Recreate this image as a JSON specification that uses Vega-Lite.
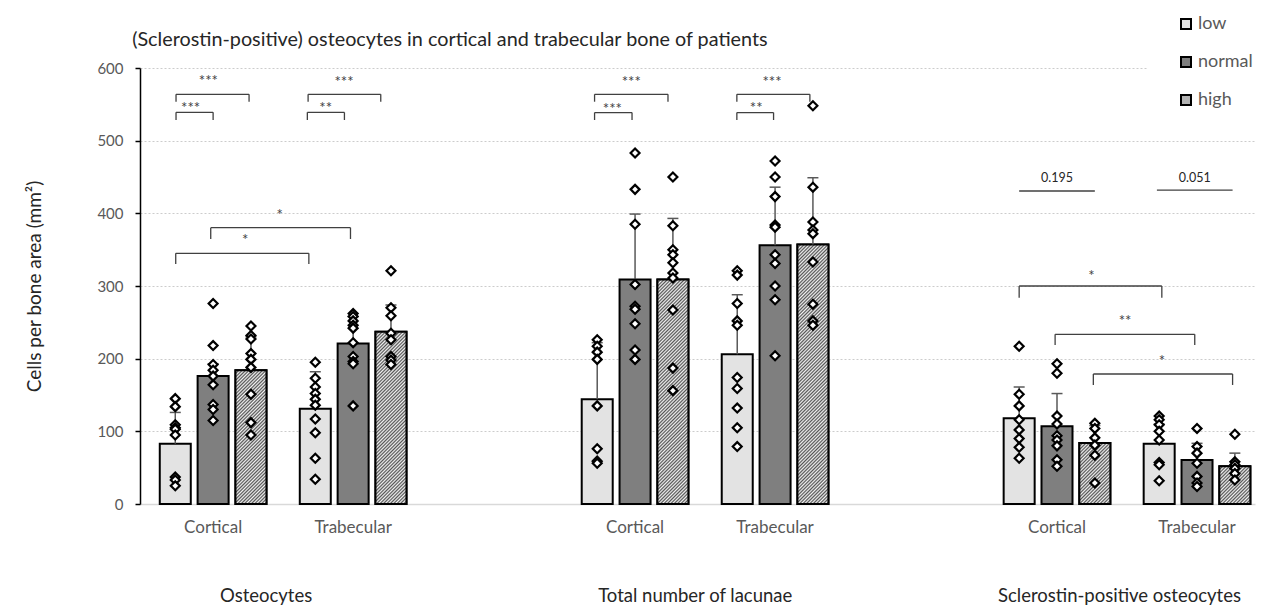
{
  "$schema": "https://vega.github.io/schema/vega-lite/v6.json",
  "width": 1115,
  "height": 436,
  "autosize": {"type": "none"},
  "padding": {"left": 140, "top": 68, "right": 13, "bottom": 101},
  "background": "white",
  "config": {"view": {"stroke": null}, "font": "Lato"},
  "params": [
    {"name": "hatchStops", "value": [
      {"offset":0,"color":"#555"},{"offset":0.005,"color":"#f2f2f2"},{"offset":0.01,"color":"#555"},{"offset":0.015,"color":"#f2f2f2"},
      {"offset":0.02,"color":"#555"},{"offset":0.025,"color":"#f2f2f2"},{"offset":0.03,"color":"#555"},{"offset":0.035,"color":"#f2f2f2"},
      {"offset":0.04,"color":"#555"},{"offset":0.045,"color":"#f2f2f2"},{"offset":0.05,"color":"#555"},{"offset":0.055,"color":"#f2f2f2"},
      {"offset":0.06,"color":"#555"},{"offset":0.065,"color":"#f2f2f2"},{"offset":0.07,"color":"#555"},{"offset":0.075,"color":"#f2f2f2"},
      {"offset":0.08,"color":"#555"},{"offset":0.085,"color":"#f2f2f2"},{"offset":0.09,"color":"#555"},{"offset":0.095,"color":"#f2f2f2"},
      {"offset":0.1,"color":"#555"},{"offset":0.105,"color":"#f2f2f2"},{"offset":0.11,"color":"#555"},{"offset":0.115,"color":"#f2f2f2"},
      {"offset":0.12,"color":"#555"},{"offset":0.125,"color":"#f2f2f2"},{"offset":0.13,"color":"#555"},{"offset":0.135,"color":"#f2f2f2"},
      {"offset":0.14,"color":"#555"},{"offset":0.145,"color":"#f2f2f2"},{"offset":0.15,"color":"#555"},{"offset":0.155,"color":"#f2f2f2"},
      {"offset":0.16,"color":"#555"},{"offset":0.165,"color":"#f2f2f2"},{"offset":0.17,"color":"#555"},{"offset":0.175,"color":"#f2f2f2"},
      {"offset":0.18,"color":"#555"},{"offset":0.185,"color":"#f2f2f2"},{"offset":0.19,"color":"#555"},{"offset":0.195,"color":"#f2f2f2"},
      {"offset":0.2,"color":"#555"},{"offset":0.205,"color":"#f2f2f2"},{"offset":0.21,"color":"#555"},{"offset":0.215,"color":"#f2f2f2"},
      {"offset":0.22,"color":"#555"},{"offset":0.225,"color":"#f2f2f2"},{"offset":0.23,"color":"#555"},{"offset":0.235,"color":"#f2f2f2"},
      {"offset":0.24,"color":"#555"},{"offset":0.245,"color":"#f2f2f2"},{"offset":0.25,"color":"#555"},{"offset":0.255,"color":"#f2f2f2"},
      {"offset":0.26,"color":"#555"},{"offset":0.265,"color":"#f2f2f2"},{"offset":0.27,"color":"#555"},{"offset":0.275,"color":"#f2f2f2"},
      {"offset":0.28,"color":"#555"},{"offset":0.285,"color":"#f2f2f2"},{"offset":0.29,"color":"#555"},{"offset":0.295,"color":"#f2f2f2"},
      {"offset":0.3,"color":"#555"},{"offset":0.305,"color":"#f2f2f2"},{"offset":0.31,"color":"#555"},{"offset":0.315,"color":"#f2f2f2"},
      {"offset":0.32,"color":"#555"},{"offset":0.325,"color":"#f2f2f2"},{"offset":0.33,"color":"#555"},{"offset":0.335,"color":"#f2f2f2"},
      {"offset":0.34,"color":"#555"},{"offset":0.345,"color":"#f2f2f2"},{"offset":0.35,"color":"#555"},{"offset":0.355,"color":"#f2f2f2"},
      {"offset":0.36,"color":"#555"},{"offset":0.365,"color":"#f2f2f2"},{"offset":0.37,"color":"#555"},{"offset":0.375,"color":"#f2f2f2"},
      {"offset":0.38,"color":"#555"},{"offset":0.385,"color":"#f2f2f2"},{"offset":0.39,"color":"#555"},{"offset":0.395,"color":"#f2f2f2"},
      {"offset":0.4,"color":"#555"},{"offset":0.405,"color":"#f2f2f2"},{"offset":0.41,"color":"#555"},{"offset":0.415,"color":"#f2f2f2"},
      {"offset":0.42,"color":"#555"},{"offset":0.425,"color":"#f2f2f2"},{"offset":0.43,"color":"#555"},{"offset":0.435,"color":"#f2f2f2"},
      {"offset":0.44,"color":"#555"},{"offset":0.445,"color":"#f2f2f2"},{"offset":0.45,"color":"#555"},{"offset":0.455,"color":"#f2f2f2"},
      {"offset":0.46,"color":"#555"},{"offset":0.465,"color":"#f2f2f2"},{"offset":0.47,"color":"#555"},{"offset":0.475,"color":"#f2f2f2"},
      {"offset":0.48,"color":"#555"},{"offset":0.485,"color":"#f2f2f2"},{"offset":0.49,"color":"#555"},{"offset":0.495,"color":"#f2f2f2"},
      {"offset":0.5,"color":"#555"},{"offset":0.505,"color":"#f2f2f2"},{"offset":0.51,"color":"#555"},{"offset":0.515,"color":"#f2f2f2"},
      {"offset":0.52,"color":"#555"},{"offset":0.525,"color":"#f2f2f2"},{"offset":0.53,"color":"#555"},{"offset":0.535,"color":"#f2f2f2"},
      {"offset":0.54,"color":"#555"},{"offset":0.545,"color":"#f2f2f2"},{"offset":0.55,"color":"#555"},{"offset":0.555,"color":"#f2f2f2"},
      {"offset":0.56,"color":"#555"},{"offset":0.565,"color":"#f2f2f2"},{"offset":0.57,"color":"#555"},{"offset":0.575,"color":"#f2f2f2"},
      {"offset":0.58,"color":"#555"},{"offset":0.585,"color":"#f2f2f2"},{"offset":0.59,"color":"#555"},{"offset":0.595,"color":"#f2f2f2"},
      {"offset":0.6,"color":"#555"},{"offset":0.605,"color":"#f2f2f2"},{"offset":0.61,"color":"#555"},{"offset":0.615,"color":"#f2f2f2"},
      {"offset":0.62,"color":"#555"},{"offset":0.625,"color":"#f2f2f2"},{"offset":0.63,"color":"#555"},{"offset":0.635,"color":"#f2f2f2"},
      {"offset":0.64,"color":"#555"},{"offset":0.645,"color":"#f2f2f2"},{"offset":0.65,"color":"#555"},{"offset":0.655,"color":"#f2f2f2"},
      {"offset":0.66,"color":"#555"},{"offset":0.665,"color":"#f2f2f2"},{"offset":0.67,"color":"#555"},{"offset":0.675,"color":"#f2f2f2"},
      {"offset":0.68,"color":"#555"},{"offset":0.685,"color":"#f2f2f2"},{"offset":0.69,"color":"#555"},{"offset":0.695,"color":"#f2f2f2"},
      {"offset":0.7,"color":"#555"},{"offset":0.705,"color":"#f2f2f2"},{"offset":0.71,"color":"#555"},{"offset":0.715,"color":"#f2f2f2"},
      {"offset":0.72,"color":"#555"},{"offset":0.725,"color":"#f2f2f2"},{"offset":0.73,"color":"#555"},{"offset":0.735,"color":"#f2f2f2"},
      {"offset":0.74,"color":"#555"},{"offset":0.745,"color":"#f2f2f2"},{"offset":0.75,"color":"#555"},{"offset":0.755,"color":"#f2f2f2"},
      {"offset":0.76,"color":"#555"},{"offset":0.765,"color":"#f2f2f2"},{"offset":0.77,"color":"#555"},{"offset":0.775,"color":"#f2f2f2"},
      {"offset":0.78,"color":"#555"},{"offset":0.785,"color":"#f2f2f2"},{"offset":0.79,"color":"#555"},{"offset":0.795,"color":"#f2f2f2"},
      {"offset":0.8,"color":"#555"},{"offset":0.805,"color":"#f2f2f2"},{"offset":0.81,"color":"#555"},{"offset":0.815,"color":"#f2f2f2"},
      {"offset":0.82,"color":"#555"},{"offset":0.825,"color":"#f2f2f2"},{"offset":0.83,"color":"#555"},{"offset":0.835,"color":"#f2f2f2"},
      {"offset":0.84,"color":"#555"},{"offset":0.845,"color":"#f2f2f2"},{"offset":0.85,"color":"#555"},{"offset":0.855,"color":"#f2f2f2"},
      {"offset":0.86,"color":"#555"},{"offset":0.865,"color":"#f2f2f2"},{"offset":0.87,"color":"#555"},{"offset":0.875,"color":"#f2f2f2"},
      {"offset":0.88,"color":"#555"},{"offset":0.885,"color":"#f2f2f2"},{"offset":0.89,"color":"#555"},{"offset":0.895,"color":"#f2f2f2"},
      {"offset":0.9,"color":"#555"},{"offset":0.905,"color":"#f2f2f2"},{"offset":0.91,"color":"#555"},{"offset":0.915,"color":"#f2f2f2"},
      {"offset":0.92,"color":"#555"},{"offset":0.925,"color":"#f2f2f2"},{"offset":0.93,"color":"#555"},{"offset":0.935,"color":"#f2f2f2"},
      {"offset":0.94,"color":"#555"},{"offset":0.945,"color":"#f2f2f2"},{"offset":0.95,"color":"#555"},{"offset":0.955,"color":"#f2f2f2"},
      {"offset":0.96,"color":"#555"},{"offset":0.965,"color":"#f2f2f2"},{"offset":0.97,"color":"#555"},{"offset":0.975,"color":"#f2f2f2"},
      {"offset":0.98,"color":"#555"},{"offset":0.985,"color":"#f2f2f2"},{"offset":0.99,"color":"#555"},{"offset":0.995,"color":"#f2f2f2"},
      {"offset":1,"color":"#555"}
    ]}
  ],
  "datasets": {
    "bars": [
      {"bar": "O-C-low", "measure": "Osteocytes", "site": "Cortical", "level": "low", "pos": 1, "mean": 83, "upper": 126},
      {"bar": "O-C-normal", "measure": "Osteocytes", "site": "Cortical", "level": "normal", "pos": 2, "mean": 176, "upper": 193},
      {"bar": "O-C-high", "measure": "Osteocytes", "site": "Cortical", "level": "high", "pos": 3, "mean": 184, "upper": 230},
      {"bar": "O-T-low", "measure": "Osteocytes", "site": "Trabecular", "level": "low", "pos": 4.7, "mean": 131, "upper": 182},
      {"bar": "O-T-normal", "measure": "Osteocytes", "site": "Trabecular", "level": "normal", "pos": 5.7, "mean": 221, "upper": 258},
      {"bar": "O-T-high", "measure": "Osteocytes", "site": "Trabecular", "level": "high", "pos": 6.7, "mean": 237, "upper": 274},
      {"bar": "L-C-low", "measure": "Total number of lacunae", "site": "Cortical", "level": "low", "pos": 12.15, "mean": 144, "upper": 222},
      {"bar": "L-C-normal", "measure": "Total number of lacunae", "site": "Cortical", "level": "normal", "pos": 13.15, "mean": 309, "upper": 399},
      {"bar": "L-C-high", "measure": "Total number of lacunae", "site": "Cortical", "level": "high", "pos": 14.15, "mean": 309, "upper": 393},
      {"bar": "L-T-low", "measure": "Total number of lacunae", "site": "Trabecular", "level": "low", "pos": 15.85, "mean": 206, "upper": 288},
      {"bar": "L-T-normal", "measure": "Total number of lacunae", "site": "Trabecular", "level": "normal", "pos": 16.85, "mean": 356, "upper": 436},
      {"bar": "L-T-high", "measure": "Total number of lacunae", "site": "Trabecular", "level": "high", "pos": 17.85, "mean": 357, "upper": 449},
      {"bar": "S-C-low", "measure": "Sclerostin-positive osteocytes", "site": "Cortical", "level": "low", "pos": 23.3, "mean": 118, "upper": 161},
      {"bar": "S-C-normal", "measure": "Sclerostin-positive osteocytes", "site": "Cortical", "level": "normal", "pos": 24.3, "mean": 107, "upper": 152},
      {"bar": "S-C-high", "measure": "Sclerostin-positive osteocytes", "site": "Cortical", "level": "high", "pos": 25.3, "mean": 84, "upper": 108},
      {"bar": "S-T-low", "measure": "Sclerostin-positive osteocytes", "site": "Trabecular", "level": "low", "pos": 27, "mean": 83, "upper": 110},
      {"bar": "S-T-normal", "measure": "Sclerostin-positive osteocytes", "site": "Trabecular", "level": "normal", "pos": 28, "mean": 60.5, "upper": 83.5},
      {"bar": "S-T-high", "measure": "Sclerostin-positive osteocytes", "site": "Trabecular", "level": "high", "pos": 29, "mean": 52, "upper": 70}
    ],
    "points": [
      {"bar": "O-C-low", "vals": [145, 134, 109, 105, 103, 95, 37, 33, 25]},
      {"bar": "O-C-normal", "vals": [276, 218, 192, 184, 176, 164, 137, 130, 115]},
      {"bar": "O-C-high", "vals": [245, 232, 227, 207, 199, 188, 151, 112, 95]},
      {"bar": "O-T-low", "vals": [195, 173, 161, 152, 144, 136, 117, 98, 63, 34]},
      {"bar": "O-T-normal", "vals": [262, 258, 252, 246, 242, 222, 203, 196, 193, 135]},
      {"bar": "O-T-high", "vals": [321, 270, 259, 235, 226, 203, 198, 192]},
      {"bar": "L-C-low", "vals": [226, 217, 209, 199, 135, 76, 59, 56]},
      {"bar": "L-C-normal", "vals": [483, 433, 385, 302, 272, 268, 248, 212, 199]},
      {"bar": "L-C-high", "vals": [450, 383, 350, 343, 332, 318, 311, 267, 187, 156]},
      {"bar": "L-T-low", "vals": [321, 315, 276, 252, 246, 174, 159, 132, 105, 79]},
      {"bar": "L-T-normal", "vals": [472, 450, 423, 384, 381, 343, 331, 300, 281, 204]},
      {"bar": "L-T-high", "vals": [548, 436, 388, 377, 372, 333, 275, 252, 246]},
      {"bar": "S-C-low", "vals": [217, 151, 135, 116, 102, 90, 78, 63]},
      {"bar": "S-C-normal", "vals": [193, 180, 121, 110, 94, 88, 80, 61, 52]},
      {"bar": "S-C-high", "vals": [111, 104, 91, 81, 67, 29]},
      {"bar": "S-T-low", "vals": [121, 116, 109, 100, 88, 57, 54, 32]},
      {"bar": "S-T-normal", "vals": [104, 79, 70, 56, 38, 29, 24]},
      {"bar": "S-T-high", "vals": [96, 58, 54, 49, 42, 33]}
    ],
    "brackets": [
      {"x1": 1.02, "x2": 2.0, "y": 539, "leg": 528.4, "label": "***", "tx": 1.405, "ty": 549},
      {"x1": 1.02, "x2": 2.95, "y": 563.8, "leg": 553.6, "label": "***", "tx": 1.876, "ty": 586.6},
      {"x1": 4.49, "x2": 5.47, "y": 539, "leg": 528.4, "label": "**", "tx": 4.975, "ty": 549},
      {"x1": 4.51, "x2": 6.43, "y": 563.8, "leg": 553.6, "label": "***", "tx": 5.457, "ty": 584.9},
      {"x1": 1.012, "x2": 4.53, "y": 345, "leg": 330.3, "label": "*", "tx": 2.845, "ty": 367.8},
      {"x1": 1.937, "x2": 5.63, "y": 380.3, "leg": 364.7, "label": "*", "tx": 3.762, "ty": 402.3},
      {"x1": 12.08, "x2": 13.07, "y": 538.7, "leg": 528.4, "label": "***", "tx": 12.55, "ty": 547.7},
      {"x1": 12.08, "x2": 14.02, "y": 563.8, "leg": 553.6, "label": "***", "tx": 13.05, "ty": 585.3},
      {"x1": 15.84, "x2": 16.81, "y": 538.7, "leg": 528.4, "label": "**", "tx": 16.35, "ty": 549},
      {"x1": 15.84, "x2": 17.77, "y": 563.8, "leg": 553.6, "label": "***", "tx": 16.77, "ty": 585.3},
      {"x1": 23.3, "x2": 25.3, "y": 430.7, "leg": 430.7, "label": "0.195", "tx": 24.3, "ty": 448.2},
      {"x1": 26.94, "x2": 28.94, "y": 432, "leg": 432, "label": "0.051", "tx": 27.94, "ty": 448.2},
      {"x1": 23.3, "x2": 27.07, "y": 300, "leg": 284, "label": "*", "tx": 25.21, "ty": 317.5},
      {"x1": 24.25, "x2": 27.94, "y": 233.5, "leg": 218.8, "label": "**", "tx": 26.1, "ty": 256.4},
      {"x1": 25.26, "x2": 28.94, "y": 178.9, "leg": 163.8, "label": "*", "tx": 27.07, "ty": 200.5}
    ],
    "sites": [
      {"label": "Cortical", "pos": 2},
      {"label": "Trabecular", "pos": 5.7},
      {"label": "Cortical", "pos": 13.15},
      {"label": "Trabecular", "pos": 16.85},
      {"label": "Cortical", "pos": 24.3},
      {"label": "Trabecular", "pos": 28}
    ],
    "groups": [
      {"label": "Osteocytes", "gx": 3.4},
      {"label": "Total number of lacunae", "gx": 14.74},
      {"label": "Sclerostin-positive osteocytes", "gx": 25.95}
    ],
    "titles": [
      {"label": "(Sclerostin-positive) osteocytes in cortical and trabecular bone of patients"}
    ]
  },
  "layer": [
    {
      "data": {"name": "bars"},
      "mark": {"type": "bar", "size": 31, "stroke": "black", "strokeWidth": 2, "orient": "vertical"},
      "encoding": {
        "x": {"field": "pos", "type": "quantitative", "title": null,
              "scale": {"domain": [0.2, 29.4], "nice": false, "zero": false},
              "axis": {"labels": false, "ticks": false, "grid": false, "domainColor": "#d9d9d9", "domainWidth": 1.5}},
        "y": {"field": "mean", "type": "quantitative", "stack": null, "title": "Cells per bone area (mm²)",
              "scale": {"domain": [0, 600], "nice": false},
              "axis": {"values": [0, 100, 200, 300, 400, 500, 600], "grid": true, "gridDash": [2, 2], "gridColor": "#cccccc", "gridWidth": 1,
                       "domainColor": "black", "domainWidth": 1.5, "tickColor": "black", "tickWidth": 1.5, "tickSize": 5,
                       "labelFontSize": 15, "labelColor": "#595959", "labelPadding": 12, "labelFont": "Lato",
                       "titleFontSize": 19, "titleFontWeight": "normal", "titleColor": "#262626", "titleFont": "Lato", "titlePadding": 52}},
        "color": {"field": "level", "type": "nominal",
                  "scale": {"domain": ["low", "normal", "high"], "range": ["#e3e3e3", "#7f7f7f", "#b3b3b3"]},
                  "legend": {"title": null, "orient": "none", "legendX": 1007, "legendY": -83, "direction": "vertical",
                             "symbolType": "square", "symbolSize": 100, "symbolStrokeColor": "black", "symbolStrokeWidth": 2,
                             "labelFontSize": 18, "labelColor": "#595959", "labelFont": "Lato", "labelOffset": 3, "rowPadding": 20,
                             "padding": 30, "fillColor": "white",
                             "encode": {"symbols": {"update": {
                               "fill": {"signal": "datum.value === 'high' ? {gradient: 'linear', x1: 0, y1: 0, x2: 16.97, y2: 16.97, stops: hatchStops} : scale('color', datum.value)"},
                               "stroke": {"value": "black"}, "strokeWidth": {"value": 2}, "opacity": {"value": 1}}}}}}
      }
    },
    {
      "data": {"name": "bars"},
      "transform": [{"filter": "datum.level === 'high'"}],
      "mark": {"type": "bar", "size": 31, "stroke": "black", "strokeWidth": 2, "orient": "vertical",
               "fill": {"expr": "{gradient: 'linear', x1: 0, y1: 0, x2: 339.4*31/(961 + pow(scale('y', 0) - scale('y', datum.mean), 2)), y2: 339.4*(scale('y', 0) - scale('y', datum.mean))/(961 + pow(scale('y', 0) - scale('y', datum.mean), 2)), stops: hatchStops}"}},
      "encoding": {
        "x": {"field": "pos", "type": "quantitative", "title": null},
        "y": {"field": "mean", "type": "quantitative", "stack": null, "title": "Cells per bone area (mm²)"}
      }
    },
    {
      "data": {"name": "bars"},
      "mark": {"type": "rule", "color": "#595959", "strokeWidth": 1.5},
      "encoding": {
        "x": {"field": "pos", "type": "quantitative", "title": null},
        "y": {"field": "mean", "type": "quantitative", "title": "Cells per bone area (mm²)"},
        "y2": {"field": "upper"}
      }
    },
    {
      "data": {"name": "bars"},
      "mark": {"type": "tick", "orient": "horizontal", "color": "#595959", "size": 11, "thickness": 1.5, "opacity": 1},
      "encoding": {
        "x": {"field": "pos", "type": "quantitative", "title": null},
        "y": {"field": "upper", "type": "quantitative", "title": "Cells per bone area (mm²)"}
      }
    },
    {
      "data": {"name": "points"},
      "transform": [
        {"flatten": ["vals"]},
        {"lookup": "bar", "from": {"data": {"name": "bars"}, "key": "bar", "fields": ["pos"]}}
      ],
      "mark": {"type": "point", "shape": "diamond", "size": 80, "filled": true, "fill": "white", "stroke": "black", "strokeWidth": 2.2, "opacity": 1},
      "encoding": {
        "x": {"field": "pos", "type": "quantitative", "title": null},
        "y": {"field": "vals", "type": "quantitative", "title": "Cells per bone area (mm²)"}
      }
    },
    {
      "data": {"name": "brackets"},
      "mark": {"type": "rule", "color": "#404040", "strokeWidth": 1.3},
      "encoding": {
        "x": {"field": "x1", "type": "quantitative", "title": null},
        "x2": {"field": "x2"},
        "y": {"field": "y", "type": "quantitative", "title": "Cells per bone area (mm²)"}
      }
    },
    {
      "data": {"name": "brackets"},
      "mark": {"type": "rule", "color": "#404040", "strokeWidth": 1.3},
      "encoding": {
        "x": {"field": "x1", "type": "quantitative", "title": null},
        "y": {"field": "y", "type": "quantitative", "title": "Cells per bone area (mm²)"},
        "y2": {"field": "leg"}
      }
    },
    {
      "data": {"name": "brackets"},
      "mark": {"type": "rule", "color": "#404040", "strokeWidth": 1.3},
      "encoding": {
        "x": {"field": "x2", "type": "quantitative", "title": null},
        "y": {"field": "y", "type": "quantitative", "title": "Cells per bone area (mm²)"},
        "y2": {"field": "leg"}
      }
    },
    {
      "data": {"name": "brackets"},
      "transform": [{"filter": "indexof(datum.label, '*') >= 0"}],
      "mark": {"type": "text", "fontSize": 15, "color": "#404040", "baseline": "middle", "align": "center", "dy": 3, "font": "Lato"},
      "encoding": {
        "x": {"field": "tx", "type": "quantitative", "title": null},
        "y": {"field": "ty", "type": "quantitative", "title": "Cells per bone area (mm²)"},
        "text": {"field": "label"}
      }
    },
    {
      "data": {"name": "brackets"},
      "transform": [{"filter": "indexof(datum.label, '*') < 0"}],
      "mark": {"type": "text", "fontSize": 12.5, "color": "#262626", "baseline": "middle", "align": "center", "font": "Lato"},
      "encoding": {
        "x": {"field": "tx", "type": "quantitative", "title": null},
        "y": {"field": "ty", "type": "quantitative", "title": "Cells per bone area (mm²)"},
        "text": {"field": "label"}
      }
    },
    {
      "data": {"name": "sites"},
      "mark": {"type": "text", "fontSize": 17, "color": "#595959", "baseline": "middle", "align": "center", "font": "Lato"},
      "encoding": {
        "x": {"field": "pos", "type": "quantitative", "title": null},
        "y": {"datum": -33, "type": "quantitative", "title": "Cells per bone area (mm²)"},
        "text": {"field": "label"}
      }
    },
    {
      "data": {"name": "groups"},
      "mark": {"type": "text", "fontSize": 18.5, "color": "#262626", "baseline": "middle", "align": "center", "font": "Lato"},
      "encoding": {
        "x": {"field": "gx", "type": "quantitative", "title": null},
        "y": {"datum": -127, "type": "quantitative", "title": "Cells per bone area (mm²)"},
        "text": {"field": "label"}
      }
    },
    {
      "data": {"name": "titles"},
      "mark": {"type": "text", "fontSize": 19.8, "color": "#262626", "baseline": "middle", "align": "left", "font": "Lato"},
      "encoding": {
        "x": {"datum": -0.14, "type": "quantitative", "title": null},
        "y": {"datum": 638.5, "type": "quantitative", "title": "Cells per bone area (mm²)"},
        "text": {"field": "label"}
      }
    }
  ]
}
